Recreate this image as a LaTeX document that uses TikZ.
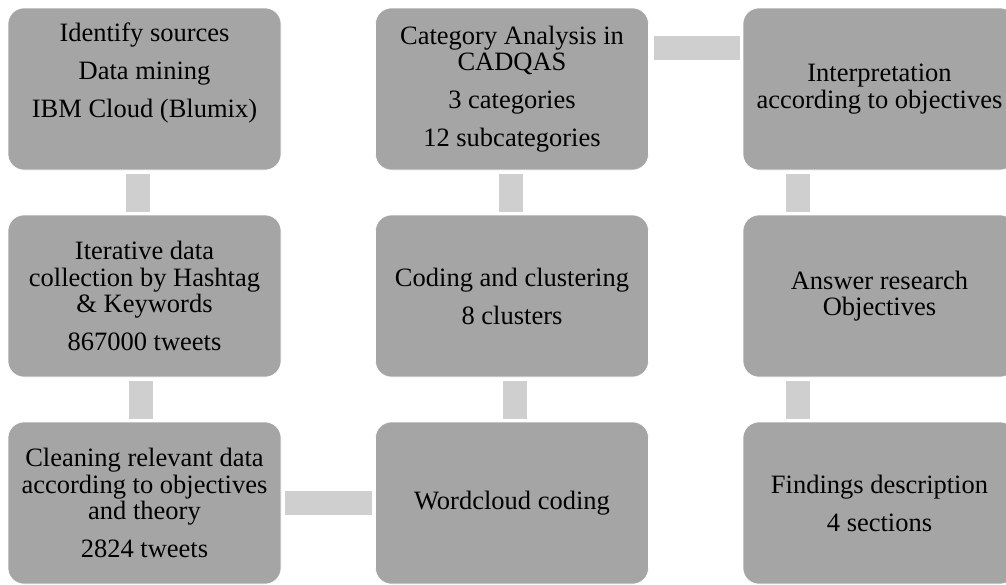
\documentclass[tikz,border=0pt]{standalone}
\usepackage{fontspec}
\setmainfont{Liberation Serif}
\usepackage{tikz}
\usetikzlibrary{positioning,calc}
\usepackage{xcolor}
\definecolor{boxgray}{HTML}{A5A5A5}
\definecolor{linkgray}{HTML}{CFCFCF}

\begin{document}
\begin{tikzpicture}[
    x=1pt, y=-1pt,
    stagebox/.style={fill=boxgray, draw=white, line width=0.6pt, rounded corners=16pt, minimum width=273pt, minimum height=162pt, align=center, inner sep=2pt, font=\fontsize{26.5}{26.5}\selectfont},
    link/.style={fill=linkgray, draw=white, line width=0.4pt},
]
\clip (0,0) rectangle (1006,584);
\useasboundingbox (0,0) rectangle (1006,584);

\node[stagebox] (src) at (144.5,89) {Identify sources\\[11.5pt]Data mining\\[11.5pt]IBM Cloud (Blumix)\\[11.5pt]\mbox{}};
\node[stagebox] (iter) at (144.5,296) {Iterative data\\collection by Hashtag\\\& Keywords\\[11.5pt]867000 tweets};
\node[stagebox] (clean) at (144.5,503) {Cleaning relevant data\\according to objectives\\and theory\\[11.5pt]2824 tweets};
\node[stagebox] (word) at (512,503) {Wordcloud coding};
\node[stagebox] (code) at (512,296) {Coding and clustering\\[11.5pt]8 clusters};
\node[stagebox] (cat) at (512,89) {Category Analysis in\\CADQAS\\[11.5pt]3 categories\\[11.5pt]12 subcategories};
\node[stagebox] (interp) at (879.5,89) {Interpretation\\according to objectives};
\node[stagebox] (answer) at (879.5,296) {Answer research\\Objectives};
\node[stagebox] (find) at (879.5,503) {Findings description\\[11.5pt]4 sections};

\draw[link] ($(src.south)+(-19.5,3)$) rectangle ($(iter.north)+(5.5,-3)$);
\draw[link] ($(iter.south)+(-16.5,3)$) rectangle ($(clean.north)+(8.5,-3)$);
\draw[link] ($(clean.east)+(3,-12.5)$) rectangle ($(word.west)+(-3.5,12.5)$);
\draw[link] ($(word.north)+(-10,-3)$) rectangle ($(code.south)+(15,3)$);
\draw[link] ($(code.north)+(-14,-3)$) rectangle ($(cat.south)+(11,3)$);
\draw[link] ($(cat.east)+(4,-54)$) rectangle ($(interp.west)+(-3,-29)$);
\draw[link] ($(interp.south)+(-94.5,3)$) rectangle ($(answer.north)+(-69.5,-3)$);
\draw[link] ($(answer.south)+(-94.5,3)$) rectangle ($(find.north)+(-69.5,-3)$);
\end{tikzpicture}
\end{document}
